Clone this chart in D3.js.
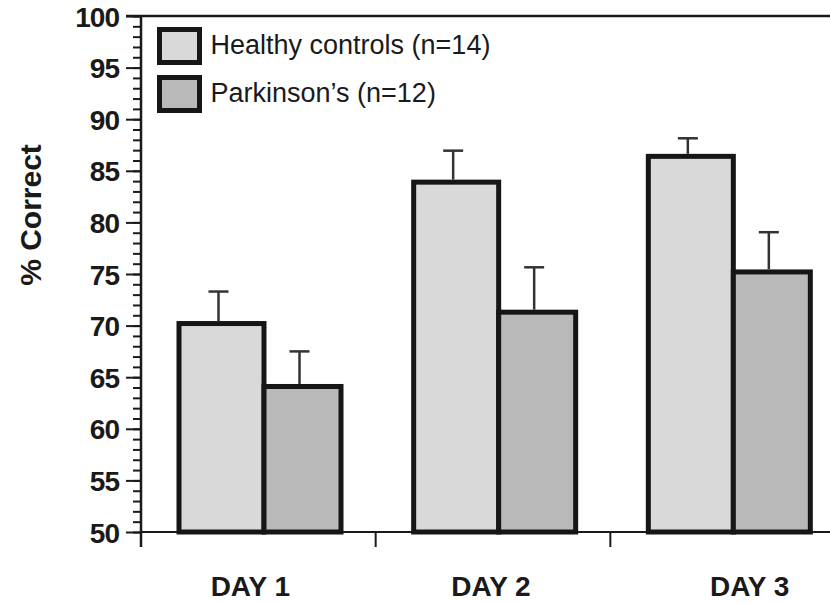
<!DOCTYPE html>
<html>
<head>
<meta charset="utf-8">
<script src="https://cdn.jsdelivr.net/npm/d3@7"></script>
<style>
  body { margin: 0; background: #fff; }
  text { font-family: "Liberation Sans", Arial, Helvetica, sans-serif; fill: #1a1a1a; }
</style>
</head>
<body>
<script>
// data
var days = [ "DAY 1", "DAY 2", "DAY 3" ];
var healthy = [ 70.2, 83.9, 86.4 ];
var healthySE = [ 3.1, 3.05, 1.75 ];
var parkinsons = [ 64.1, 71.3, 75.2 ];
var parkinsonsSE = [ 3.4, 4.35, 3.85 ];
var seriesNames = [ "Healthy controls (n=14)", "Parkinson\u2019s (n=12)" ];
var seriesFill = [ "#d9d9d9", "#b9b9b9" ];
var yTicks = [ 50, 55, 60, 65, 70, 75, 80, 85, 90, 95, 100 ];

// label nudges so the day names sit where the original put them
var labelNudge = [ -8, -2, 22 ];

var W = 830, H = 603;
var svg = d3.select( "body" ).append( "svg" )
  .attr( "width", W )
  .attr( "height", H );

var x = d3.scaleBand()
  .domain( days )
  .range( [ 141, 845 ] )
  .paddingInner( 0 ).paddingOuter( 0 );

var y = d3.scaleLinear()
  .domain( [ 50, 100 ] )
  .range( [ 532, 16 ] );

// inner layout of the two bars inside a day band
var inner = d3.scaleOrdinal().domain( [ 0, 1 ] ).range( [ 38, 123 ] );
var barW = [ 85, 77 ];

// top frame line
svg.append( "line" )
  .attr( "x1", 126 ).attr( "x2", W )
  .attr( "y1", y( 100 ) ).attr( "y2", y( 100 ) )
  .attr( "stroke", "#1a1a1a" ).attr( "stroke-width", 2.5 );

// minor ticks every 1
var minor = svg.append( "g" )
  .attr( "transform", "translate(141,0)" )
  .call( d3.axisLeft( y ).tickValues( d3.range( 50, 101 ) ).tickSize( 8 ).tickFormat( "" ) );
minor.select( ".domain" ).remove();
minor.selectAll( "line" ).attr( "stroke", "#1a1a1a" ).attr( "stroke-width", 2 );

// major ticks + labels
var yAxis = svg.append( "g" )
  .attr( "transform", "translate(141,0)" )
  .call( d3.axisLeft( y ).tickValues( yTicks ).tickSize( 15 ).tickPadding( 7 ).tickSizeOuter( 0 ) );
yAxis.select( ".domain" ).remove();
yAxis.selectAll( "line" ).attr( "stroke", "#1a1a1a" ).attr( "stroke-width", 2 );
yAxis.selectAll( "text" )
  .attr( "font-size", 28 ).attr( "font-weight", "bold" )
  .attr( "letter-spacing", -1 )
  .attr( "dy", "0.36em" )
  .style( "fill", "#1a1a1a" );

// y axis line (runs a little below 50)
svg.append( "line" )
  .attr( "x1", 141 ).attr( "x2", 141 )
  .attr( "y1", y( 100 ) ).attr( "y2", 547 )
  .attr( "stroke", "#1a1a1a" ).attr( "stroke-width", 2.5 );

// x axis baseline and band ticks
svg.append( "line" )
  .attr( "x1", 141 ).attr( "x2", W )
  .attr( "y1", y( 50 ) ).attr( "y2", y( 50 ) )
  .attr( "stroke", "#1a1a1a" ).attr( "stroke-width", 2 );

svg.selectAll( "line.xtick" )
  .data( days )
  .enter().append( "line" )
  .attr( "class", "xtick" )
  .attr( "x1", function ( d ) { return x( d ); } )
  .attr( "x2", function ( d ) { return x( d ); } )
  .attr( "y1", y( 50 ) ).attr( "y2", 547 )
  .attr( "stroke", "#1a1a1a" ).attr( "stroke-width", 2 );

// bars
var groups = [ healthy, parkinsons ];
var errs = [ healthySE, parkinsonsSE ];

groups.forEach( function ( vals, s ) {
  svg.selectAll( "rect.s" + s )
    .data( vals )
    .enter().append( "rect" )
    .attr( "class", "s" + s )
    .attr( "x", function ( d, i ) { return x( days[ i ] ) + inner( s ); } )
    .attr( "y", function ( d ) { return y( d ); } )
    .attr( "width", barW[ s ] )
    .attr( "height", function ( d ) { return y( 50 ) - y( d ); } )
    .attr( "fill", seriesFill[ s ] )
    .attr( "stroke", "#161616" )
    .attr( "stroke-width", 5 );
} );

// error bars (upper half only)
groups.forEach( function ( vals, s ) {
  var cx = function ( d, i ) { return x( days[ i ] ) + inner( s ) + barW[ s ] / 2 - 3; };
  svg.selectAll( "line.err" + s )
    .data( vals )
    .enter().append( "line" )
    .attr( "class", "err" + s )
    .attr( "x1", cx ).attr( "x2", cx )
    .attr( "y1", function ( d ) { return y( d ) - 2.5; } )
    .attr( "y2", function ( d, i ) { return y( d + errs[ s ][ i ] ); } )
    .attr( "stroke", "#333" ).attr( "stroke-width", 2.5 );
  svg.selectAll( "line.cap" + s )
    .data( vals )
    .enter().append( "line" )
    .attr( "class", "cap" + s )
    .attr( "x1", function ( d, i ) { return cx( d, i ) - 10; } )
    .attr( "x2", function ( d, i ) { return cx( d, i ) + 10; } )
    .attr( "y1", function ( d, i ) { return y( d + errs[ s ][ i ] ); } )
    .attr( "y2", function ( d, i ) { return y( d + errs[ s ][ i ] ); } )
    .attr( "stroke", "#333" ).attr( "stroke-width", 2.5 );
} );

// day labels
svg.selectAll( "text.day" )
  .data( days )
  .enter().append( "text" )
  .attr( "class", "day" )
  .attr( "x", function ( d, i ) { return x( d ) + x.bandwidth() / 2 + labelNudge[ i ]; } )
  .attr( "y", 596 )
  .attr( "text-anchor", "middle" )
  .attr( "font-size", 28 ).attr( "font-weight", "bold" )
  .text( function ( d ) { return d; } );

// y title
svg.append( "text" )
  .attr( "transform", "translate(41,215) rotate(-90)" )
  .attr( "text-anchor", "middle" )
  .attr( "font-size", 30 ).attr( "font-weight", "bold" )
  .text( "% Correct" );

// legend
var leg = svg.selectAll( "g.leg" )
  .data( seriesNames )
  .enter().append( "g" )
  .attr( "class", "leg" )
  .attr( "transform", function ( d, i ) { return "translate(159.5," + ( 29.5 + i * 48 ) + ")"; } );

leg.append( "rect" )
  .attr( "width", 40 ).attr( "height", 33 )
  .attr( "fill", function ( d, i ) { return seriesFill[ i ]; } )
  .attr( "stroke", "#161616" ).attr( "stroke-width", 5 );

leg.append( "text" )
  .attr( "x", 51 ).attr( "y", 24 )
  .attr( "font-size", 27 )
  .text( function ( d ) { return d; } );
</script>
</body>
</html>
